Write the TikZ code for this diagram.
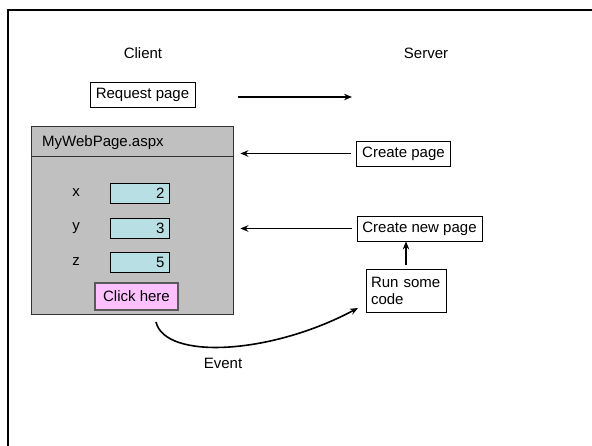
\documentclass[tikz,border=0pt]{standalone}
\usepackage{fontspec}
\setmainfont{Liberation Sans}
\usepackage{tikz}
\usetikzlibrary{arrows.meta}
\definecolor{panelgray}{RGB}{192,192,192}
\definecolor{fieldcyan}{RGB}{184,224,228}
\definecolor{buttonpink}{RGB}{255,192,255}
\tikzset{>={Stealth[length=8pt,width=6.5pt]}}
\tikzset{
  caption/.style={font=\fontsize{15}{17}\selectfont, inner sep=0pt},
  msgbox/.style={draw, line width=0.8pt, fill=white, minimum height=25pt,
    inner sep=3pt, font=\fontsize{15}{17}\selectfont},
  panel/.style={draw=black!80, line width=0.8pt, fill=panelgray, inner sep=0pt},
  field/.style={draw, line width=0.8pt, fill=fieldcyan, minimum width=59pt,
    minimum height=20pt, text width=50pt, align=right, inner sep=0pt,
    font=\fontsize{15}{17}\selectfont},
  button/.style={draw=black!65, line width=1.5pt,
    fill=buttonpink, minimum width=83pt, minimum height=27pt, inner sep=0pt,
    font=\fontsize{15}{17}\selectfont},
  flow/.style={->, line width=1.6pt}
}
\begin{document}
\begin{tikzpicture}[x=1pt,y=-1pt]
    \useasboundingbox (0,0) rectangle (592,446);
    \draw[line width=2pt] (8,446) -- (8,10) -- (592,10);

    \node[caption] (client) at (143,53) {Client};
    \node[caption] (server) at (426,53) {Server};
    \node[msgbox, minimum width=105pt] (request) at (142.5,94.5) {Request page};

    % the page in the browser
    \node[panel, minimum width=202pt, minimum height=188pt] (webpage) at (132,220) {};
    \node[caption, anchor=west] (title) at (42,143) {MyWebPage.aspx};
    \draw[line width=0.8pt, black!80] (webpage.west |- 0,156) -- (webpage.east |- 0,156);
    \foreach \name/\val/\y in {x/2/193, y/3/228, z/5/262} {
        \node[caption] (\name label) at (76,\y) {\name};
        \node[field] (\name box) at (139.5,\y) {\val};
    }
    \node[button] (click) at (136.5,296.5) {Click here};

    % the server side
    \node[msgbox, minimum width=94pt] (createpage) at (403.5,153.5) {Create page};
    \node[msgbox, minimum width=125pt] (createnew) at (419.5,228.5) {Create new page};
    \node[msgbox, minimum height=43pt, text width=70pt, align=left, inner xsep=5pt]
        (runcode) at (406,290.5) {Run some\\code};

    \coordinate (reqstart) at (238,97);
    \coordinate (reqend) at (352,97);
    \draw[flow] (reqstart) -- (reqend);
    \draw[flow] ([xshift=-5pt]createpage.west) -- ([xshift=7pt]webpage.east |- createpage.west);
    \draw[flow] ([xshift=-5pt]createnew.west) -- ([xshift=7pt]webpage.east |- createnew.west);
    \draw[flow] ([yshift=4pt]runcode.north) -- (runcode.north |- createnew.south);

    \coordinate (evstart) at (156,322);
    \coordinate (evend) at (358,308);
    \draw[flow] (evstart) .. controls (165,360) and (270,355) .. (evend);
    \node[caption] (event) at (223,363) {Event};
\end{tikzpicture}
\end{document}
